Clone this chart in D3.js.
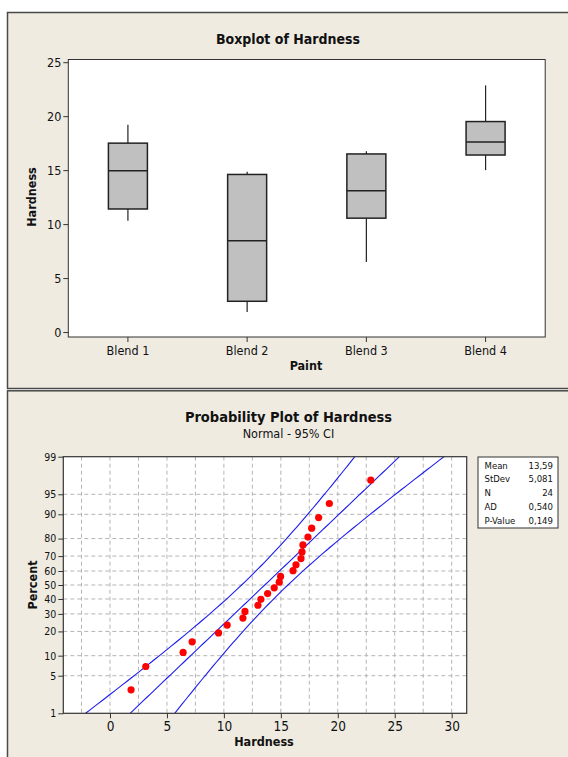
<!DOCTYPE html>
<html>
<head>
<meta charset="utf-8">
<script src="https://cdn.jsdelivr.net/npm/d3@7"></script>
<style>
  body { margin: 0; background: #fff; }
  svg text { font-family: "DejaVu Sans Condensed", "DejaVu Sans", sans-serif; fill: #111; }
</style>
</head>
<body>
<svg id="chart"></svg>
<script>
// boxplot stats
var blends = ["Blend 1", "Blend 2", "Blend 3", "Blend 4"];
var whiskLo = [10.3, 1.85, 6.5, 15.0];
var q1 = [11.4, 2.85, 10.55, 16.4];
var med = [14.95, 8.45, 13.1, 17.6];
var q3 = [17.5, 14.6, 16.5, 19.5];
var whiskHi = [19.2, 14.85, 16.75, 22.85];
var hardTicks = [0, 5, 10, 15, 20, 25];

// probability plot points
var hardness = [1.85, 3.14, 6.42, 7.21, 9.53, 10.29, 11.67, 11.85, 12.99, 13.25, 13.84, 14.42,
                14.86, 14.98, 16.07, 16.33, 16.77, 16.86, 16.94, 17.38, 17.71, 18.32, 19.26, 22.90];
var percent = [2.87, 6.97, 11.07, 15.16, 19.26, 23.36, 27.46, 31.56, 35.66, 39.75, 43.85, 47.95,
               52.05, 56.15, 60.25, 64.34, 68.44, 72.54, 76.64, 80.74, 84.84, 88.93, 93.03, 97.13];
var pctTicks = [1, 5, 10, 20, 30, 40, 50, 60, 70, 80, 90, 95, 99];
var xTicks = [0, 5, 10, 15, 20, 25, 30];
var statLabels = ["Mean", "StDev", "N", "AD", "P-Value"];
var statValues = ["13,59", "5,081", "24", "0,540", "0,149"];
var fitMean = 13.59, fitSd = 5.081, fitN = 24;

var svg = d3.select("#chart").attr("width", 568).attr("height", 757);

// inverse normal cdf (Acklam)
function qnorm(p) {
  var a = [-39.69683028665376, 220.9460984245205, -275.9285104469687, 138.3577518672690, -30.66479806614716, 2.506628277459239];
  var b = [-54.47609879822406, 161.5858368580409, -155.6989798598866, 66.80131188771972, -13.28068155288572];
  var c = [-0.007784894002430293, -0.3223964580411365, -2.400758277161838, -2.549732539343734, 4.374664141464968, 2.938163982698783];
  var d = [0.007784695709041462, 0.3224671290700398, 2.445134137142996, 3.754408661907416];
  var q, r;
  if (p < 0.02425) {
    q = Math.sqrt(-2 * Math.log(p));
    return (((((c[0]*q+c[1])*q+c[2])*q+c[3])*q+c[4])*q+c[5]) / ((((d[0]*q+d[1])*q+d[2])*q+d[3])*q+1);
  } else if (p > 1 - 0.02425) {
    q = Math.sqrt(-2 * Math.log(1 - p));
    return -(((((c[0]*q+c[1])*q+c[2])*q+c[3])*q+c[4])*q+c[5]) / ((((d[0]*q+d[1])*q+d[2])*q+d[3])*q+1);
  }
  q = p - 0.5; r = q * q;
  return (((((a[0]*r+a[1])*r+a[2])*r+a[3])*r+a[4])*r+a[5])*q / (((((b[0]*r+b[1])*r+b[2])*r+b[3])*r+b[4])*r+1);
}

// panel frames
svg.append("rect").attr("x", 7.5).attr("y", 12.5).attr("width", 600).attr("height", 376)
  .attr("fill", "#efebe1").attr("stroke", "#4a4a4a").attr("stroke-width", 1.5);
svg.append("rect").attr("x", 7.5).attr("y", 390.8).attr("width", 600).attr("height", 400)
  .attr("fill", "#efebe1").attr("stroke", "#4a4a4a").attr("stroke-width", 1.5);

// ---------- Boxplot ----------
var bx = {l: 68.3, r: 545.2, t: 59.5, b: 337};
var xb = d3.scaleBand().domain(blends).range([bx.l, bx.r]);
var yb = d3.scaleLinear().domain([-0.46, 25.25]).range([bx.b, bx.t]);

svg.append("rect").attr("x", bx.l).attr("y", bx.t).attr("width", bx.r - bx.l).attr("height", bx.b - bx.t)
  .attr("fill", "#fff").attr("stroke", "#333").attr("stroke-width", 1);

var gy = svg.append("g").attr("transform", "translate(" + bx.l + ",0)")
  .call(d3.axisLeft(yb).tickValues(hardTicks).tickSize(5).tickPadding(2));
var gx = svg.append("g").attr("transform", "translate(0," + bx.b + ")")
  .call(d3.axisBottom(xb).tickSize(5).tickPadding(4));
[gy, gx].forEach(function(g) {
  g.attr("font-size", null).attr("font-family", null);
  g.select(".domain").remove();
  g.selectAll("line").attr("stroke", "#333");
  g.selectAll("text").style("font-size", "12.5px").attr("fill", "#111");
});

var bw = 39;
blends.forEach(function(b, i) {
  var cx = xb(b) + xb.bandwidth() / 2;
  svg.append("line").attr("x1", cx).attr("x2", cx).attr("y1", yb(whiskHi[i])).attr("y2", yb(q3[i]))
    .attr("stroke", "#222").attr("stroke-width", 1.2);
  svg.append("line").attr("x1", cx).attr("x2", cx).attr("y1", yb(q1[i])).attr("y2", yb(whiskLo[i]))
    .attr("stroke", "#222").attr("stroke-width", 1.2);
  svg.append("rect").attr("x", cx - bw / 2).attr("y", yb(q3[i])).attr("width", bw).attr("height", yb(q1[i]) - yb(q3[i]))
    .attr("fill", "#c0c0c0").attr("stroke", "#222").attr("stroke-width", 1.5);
  svg.append("line").attr("x1", cx - bw / 2).attr("x2", cx + bw / 2).attr("y1", yb(med[i])).attr("y2", yb(med[i]))
    .attr("stroke", "#222").attr("stroke-width", 1.5);
});

svg.append("text").attr("x", 288).attr("y", 43.5).attr("text-anchor", "middle")
  .attr("font-size", "14px").attr("font-weight", "bold").text("Boxplot of Hardness");
svg.append("text").attr("x", 306).attr("y", 369.5).attr("text-anchor", "middle")
  .attr("font-size", "12.5px").attr("font-weight", "bold").text("Paint");
svg.append("text").attr("transform", "translate(36,197) rotate(-90)").attr("text-anchor", "middle")
  .attr("font-size", "12.5px").attr("font-weight", "bold").text("Hardness");

// ---------- Probability plot ----------
var pp = {l: 63.3, r: 466.7, t: 456.7, b: 713.3};
var xp = d3.scaleLinear().domain([-4.1, 31.32]).range([pp.l, pp.r]);
var zMax = qnorm(0.99);
var yz = d3.scaleLinear().domain([-zMax, zMax]).range([pp.b, pp.t]);
function yp(pc) { return yz(qnorm(pc / 100)); }

svg.append("rect").attr("x", pp.l).attr("y", pp.t).attr("width", pp.r - pp.l).attr("height", pp.b - pp.t)
  .attr("fill", "#fff");

svg.append("clipPath").attr("id", "ppclip").append("rect")
  .attr("x", pp.l).attr("y", pp.t).attr("width", pp.r - pp.l).attr("height", pp.b - pp.t);

var gridX = d3.range(-2.5, 31, 2.5);
svg.append("g").selectAll("line").data(gridX).enter().append("line")
  .attr("x1", function(d) { return xp(d); }).attr("x2", function(d) { return xp(d); })
  .attr("y1", pp.t).attr("y2", pp.b)
  .attr("stroke", "#b4b4b4").attr("stroke-dasharray", "4,3");
svg.append("g").selectAll("line").data(pctTicks.slice(1, -1)).enter().append("line")
  .attr("x1", pp.l).attr("x2", pp.r)
  .attr("y1", function(d) { return yp(d); }).attr("y2", function(d) { return yp(d); })
  .attr("stroke", "#b4b4b4").attr("stroke-dasharray", "4,3");

// fitted line and 95% CI bands
var zs = d3.range(-zMax, zMax + 0.001, zMax / 40);
var lineGen = d3.line().x(function(d) { return xp(d[0]); }).y(function(d) { return yz(d[1]); });
function band(k) {
  return zs.map(function(z) {
    var se = fitSd * Math.sqrt(1 / fitN + z * z / (2 * fitN));
    return [fitMean + z * fitSd + k * 1.96 * se, z];
  });
}
var lg = svg.append("g").attr("clip-path", "url(#ppclip)");
[-1, 0, 1].forEach(function(k) {
  lg.append("path").attr("d", lineGen(band(k))).attr("fill", "none")
    .attr("stroke", "#1c1cf0").attr("stroke-width", 1.1);
});

svg.append("g").selectAll("circle").data(hardness).enter().append("circle")
  .attr("cx", function(d) { return xp(d); })
  .attr("cy", function(d, i) { return yp(percent[i]); })
  .attr("r", 3.6).attr("fill", "#ff0000");

svg.append("rect").attr("x", pp.l).attr("y", pp.t).attr("width", pp.r - pp.l).attr("height", pp.b - pp.t)
  .attr("fill", "none").attr("stroke", "#333").attr("stroke-width", 1.2);

var gpx = svg.append("g").attr("transform", "translate(0," + pp.b + ")")
  .call(d3.axisBottom(xp).tickValues(xTicks).tickSize(5).tickPadding(3));
var gpy = svg.append("g").attr("transform", "translate(" + pp.l + ",0)")
  .call(d3.axisLeft(yz).tickValues(pctTicks.map(function(p) { return qnorm(p / 100); }))
    .tickFormat(function(d, i) { return pctTicks[i]; }).tickSize(5).tickPadding(2));
[gpx, gpy].forEach(function(g) {
  g.attr("font-size", null).attr("font-family", null);
  g.select(".domain").remove();
  g.selectAll("line").attr("stroke", "#333");
  g.selectAll("text").attr("fill", "#111");
});
gpx.selectAll("text").style("font-size", "13.5px");
gpy.selectAll("text").style("font-size", "10.5px");

svg.append("text").attr("x", 288.5).attr("y", 421.5).attr("text-anchor", "middle")
  .attr("font-size", "14.5px").attr("font-weight", "bold").text("Probability Plot of Hardness");
svg.append("text").attr("x", 288.5).attr("y", 438).attr("text-anchor", "middle")
  .attr("font-size", "12.5px").text("Normal - 95% CI");
svg.append("text").attr("x", 264).attr("y", 746).attr("text-anchor", "middle")
  .attr("font-size", "12.5px").attr("font-weight", "bold").text("Hardness");
svg.append("text").attr("transform", "translate(37,585) rotate(-90)").attr("text-anchor", "middle")
  .attr("font-size", "12.5px").attr("font-weight", "bold").text("Percent");

// stats box
svg.append("rect").attr("x", 478).attr("y", 457).attr("width", 80).attr("height", 71)
  .attr("fill", "#fff").attr("stroke", "#333").attr("stroke-width", 1);
var sg = svg.append("g");
statLabels.forEach(function(s, i) {
  sg.append("text").attr("x", 484.5).attr("y", 468.5 + i * 13.8).attr("font-size", "9.5px").text(s);
  sg.append("text").attr("x", 553).attr("y", 468.5 + i * 13.8).attr("font-size", "9.5px")
    .attr("text-anchor", "end").text(statValues[i]);
});
</script>
</body>
</html>
